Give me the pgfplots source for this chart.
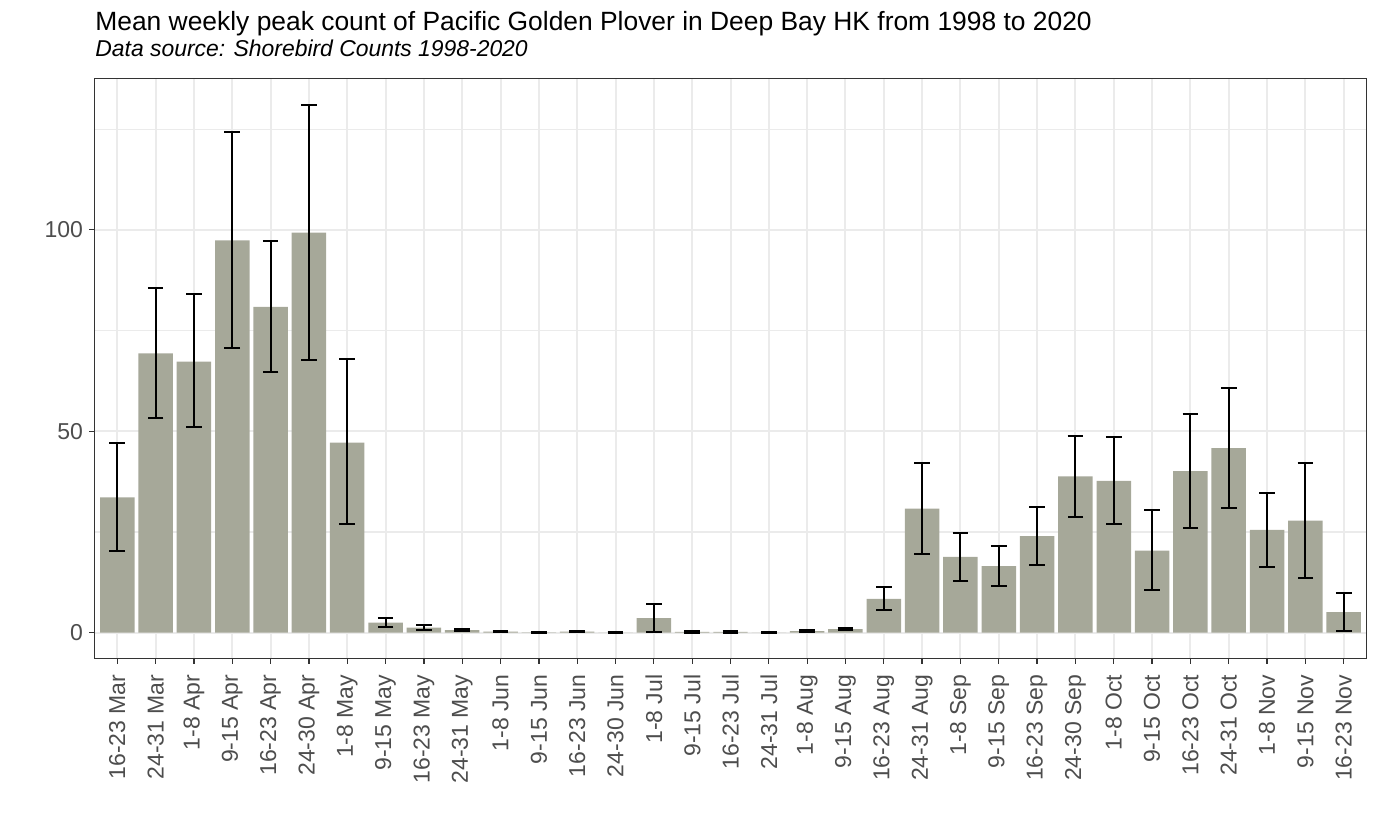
\documentclass[border=0pt]{standalone}
\usepackage{fontspec}
\setmainfont{Liberation Sans}
\usepackage{pgfplots}
\pgfplotsset{compat=1.18}
\usepackage{pgfplotstable}
\definecolor{barcol}{RGB}{166,168,153}
\definecolor{gridcol}{RGB}{235,235,235}
\definecolor{grey20}{RGB}{51,51,51}
\definecolor{grey30}{RGB}{77,77,77}

\pgfplotstableread{
x y hi lo
0 33.6 47.1 20.3
1 69.3 85.5 53.3
2 67.3 84.0 51.0
3 97.4 124.3 70.7
4 80.9 97.2 64.7
5 99.3 131.0 67.7
6 47.2 67.9 26.9
7 2.5 3.7 1.5
8 1.24 1.8 0.74
9 0.67 0.9 0.4
10 0.25 0.4 0.1
11 0.1 0.15 0.05
12 0.25 0.4 0.1
13 0.05 0.1 0.0
14 3.6 7.1 0.1
15 0.2 0.35 0.05
16 0.2 0.35 0.05
17 0.05 0.1 0.0
18 0.42 0.65 0.2
19 0.9 1.2 0.6
20 8.4 11.3 5.6
21 30.8 42.2 19.6
22 18.8 24.7 12.8
23 16.5 21.6 11.7
24 24.0 31.2 16.9
25 38.8 48.8 28.7
26 37.7 48.6 27.0
27 20.4 30.4 10.6
28 40.1 54.3 26.1
29 45.8 60.8 31.0
30 25.5 34.6 16.3
31 27.8 42.2 13.6
32 5.1 9.9 0.5
}\data

\begin{document}
\begin{tikzpicture}
\path[use as bounding box] (-47.15pt,-84.25pt) rectangle (641.85pt,329.25pt);
\begin{axis}[
  at={(0pt,0pt)}, anchor=south west,
  scale only axis, width=636.2pt, height=290.1pt,
  xmin=-0.6, xmax=32.6, ymin=-6.4, ymax=137.6,
  ybar, bar width=0.9,
  xtick={0,...,32},
  xticklabels={16-23 Mar,24-31 Mar,1-8 Apr,9-15 Apr,16-23 Apr,24-30 Apr,1-8 May,9-15 May,16-23 May,24-31 May,1-8 Jun,9-15 Jun,16-23 Jun,24-30 Jun,1-8 Jul,9-15 Jul,16-23 Jul,24-31 Jul,1-8 Aug,9-15 Aug,16-23 Aug,24-31 Aug,1-8 Sep,9-15 Sep,16-23 Sep,24-30 Sep,1-8 Oct,9-15 Oct,16-23 Oct,24-31 Oct,1-8 Nov,9-15 Nov,16-23 Nov},
  ytick={0,50,100}, minor ytick={25,75,125},
  xmajorgrids, ymajorgrids, yminorgrids,
  major grid style={gridcol, line width=1pt},
  minor grid style={gridcol, line width=0.55pt},
  axis line style={grey20, line width=0.65pt},
  tick align=outside, major tick length=2.5pt, minor tick length=0pt,
  major tick style={grey20, line width=0.65pt},
  xtick pos=left, ytick pos=left,
  ticklabel style={font=\fontsize{11.5}{13}\selectfont, text=grey30},
  xticklabel shift=5.4pt,
  xticklabel style={rotate=90, anchor=east, inner sep=0pt},
  yticklabel style={inner sep=0pt, xshift=-3pt},
  /pgf/number format/assume math mode=true,
]
\addplot[fill=barcol, draw=none,
  error bars/.cd, y dir=both, y explicit,
  error bar style={black, line width=1pt},
  error mark options={black, line width=1pt, mark size=3.9pt, rotate=90}]
  table[x=x, y=y, y error plus expr=\thisrow{hi}-\thisrow{y}, y error minus expr=\thisrow{y}-\thisrow{lo}] \data;
\end{axis}
\node[anchor=base west, inner sep=0pt, font=\fontsize{13.2}{15}\selectfont] at (0.35pt,314.25pt) {Mean weekly peak count of Pacific Golden Plover in Deep Bay HK from 1998 to 2020};
\node[anchor=base west, inner sep=0pt, font=\fontsize{11.45}{14}\selectfont\itshape] at (0.35pt,300.9pt) {Data source: Shorebird Counts 1998-2020};
\end{tikzpicture}
\end{document}
